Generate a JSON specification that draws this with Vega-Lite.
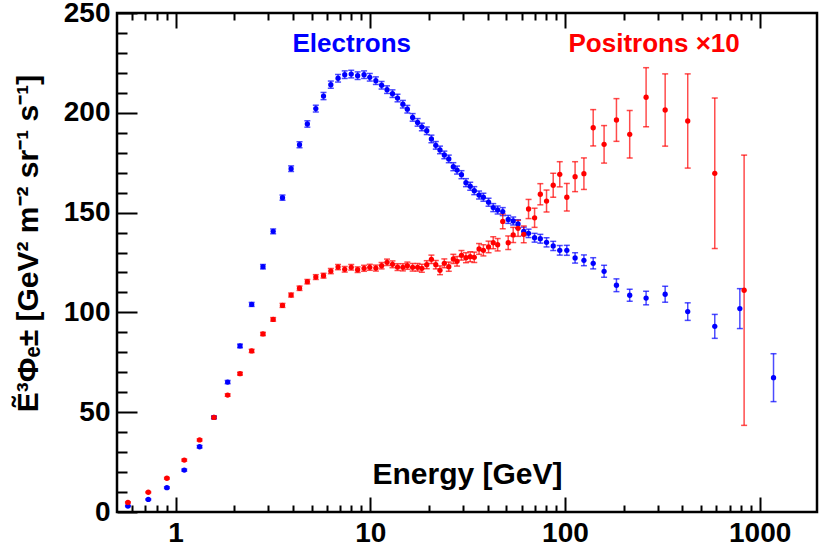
{
  "$schema": "https://vega.github.io/schema/vega-lite/v6.json",
  "description": "Electron and positron flux times E^3 vs energy",
  "autosize": {"type": "none"},
  "padding": {"left": 117, "top": 13, "right": 3, "bottom": 33},
  "width": 700,
  "height": 499,
  "background": "white",
  "config": {
    "view": {"stroke": "black", "strokeWidth": 2.5},
    "axis": {
      "domain": false,
      "grid": false,
      "labelFont": "Liberation Sans",
      "labelFontWeight": "bold",
      "labelFontSize": 28,
      "labelColor": "black",
      "tickColor": "black",
      "tickWidth": 2,
      "titleFont": "Liberation Sans",
      "titleFontWeight": "bold",
      "titleFontSize": 30,
      "titleColor": "black"
    }
  },
  "datasets": {
    "electrons": [
      {"E": 0.569, "flux": 3.0, "err": 0.3},
      {"E": 0.724, "flux": 6.3, "err": 0.3},
      {"E": 0.902, "flux": 12.2, "err": 0.4},
      {"E": 1.108, "flux": 21.0, "err": 0.5},
      {"E": 1.328, "flux": 32.7, "err": 0.6},
      {"E": 1.574, "flux": 47.4, "err": 0.7},
      {"E": 1.851, "flux": 65.1, "err": 0.8},
      {"E": 2.142, "flux": 83.2, "err": 0.9},
      {"E": 2.459, "flux": 104.0, "err": 1.0},
      {"E": 2.81, "flux": 122.9, "err": 1.1},
      {"E": 3.17, "flux": 140.6, "err": 1.2},
      {"E": 3.54, "flux": 157.5, "err": 1.3},
      {"E": 3.92, "flux": 172.0, "err": 1.4},
      {"E": 4.33, "flux": 184.0, "err": 1.5},
      {"E": 4.75, "flux": 194.4, "err": 1.6},
      {"E": 5.25, "flux": 202.1, "err": 1.7},
      {"E": 5.75, "flux": 208.4, "err": 1.8},
      {"E": 6.27, "flux": 214.1, "err": 1.8},
      {"E": 6.83, "flux": 217.3, "err": 1.9},
      {"E": 7.39, "flux": 219.1, "err": 1.9},
      {"E": 7.98, "flux": 219.4, "err": 1.9},
      {"E": 8.61, "flux": 218.6, "err": 1.9},
      {"E": 9.29, "flux": 219.1, "err": 1.9},
      {"E": 9.94, "flux": 217.8, "err": 1.9},
      {"E": 10.68, "flux": 216.1, "err": 1.9},
      {"E": 11.43, "flux": 213.8, "err": 1.9},
      {"E": 12.19, "flux": 211.6, "err": 1.9},
      {"E": 13.0, "flux": 209.6, "err": 1.9},
      {"E": 13.8, "flux": 207.4, "err": 1.9},
      {"E": 14.7, "flux": 204.3, "err": 1.9},
      {"E": 15.5, "flux": 201.8, "err": 1.9},
      {"E": 16.5, "flux": 197.7, "err": 1.9},
      {"E": 17.5, "flux": 195.2, "err": 1.9},
      {"E": 18.4, "flux": 192.9, "err": 1.9},
      {"E": 19.5, "flux": 191.0, "err": 1.9},
      {"E": 20.6, "flux": 186.9, "err": 1.9},
      {"E": 21.7, "flux": 183.7, "err": 1.9},
      {"E": 22.8, "flux": 181.4, "err": 1.9},
      {"E": 24.0, "flux": 178.9, "err": 1.9},
      {"E": 25.3, "flux": 176.9, "err": 1.9},
      {"E": 26.7, "flux": 173.0, "err": 2.0},
      {"E": 27.9, "flux": 171.3, "err": 2.0},
      {"E": 29.4, "flux": 169.0, "err": 2.0},
      {"E": 31.0, "flux": 165.0, "err": 2.0},
      {"E": 32.6, "flux": 163.2, "err": 2.0},
      {"E": 34.2, "flux": 161.0, "err": 2.0},
      {"E": 36.2, "flux": 158.8, "err": 2.0},
      {"E": 38.1, "flux": 157.7, "err": 2.0},
      {"E": 40.5, "flux": 155.2, "err": 2.0},
      {"E": 42.8, "flux": 152.5, "err": 2.0},
      {"E": 45.1, "flux": 151.3, "err": 2.0},
      {"E": 47.9, "flux": 150.5, "err": 2.0},
      {"E": 51.1, "flux": 146.6, "err": 2.0},
      {"E": 54.2, "flux": 145.8, "err": 2.0},
      {"E": 57.4, "flux": 144.3, "err": 2.1},
      {"E": 61.4, "flux": 140.6, "err": 2.1},
      {"E": 65.0, "flux": 139.6, "err": 2.1},
      {"E": 69.8, "flux": 137.4, "err": 2.2},
      {"E": 74.7, "flux": 136.9, "err": 2.2},
      {"E": 80.4, "flux": 135.1, "err": 2.3},
      {"E": 87.0, "flux": 133.3, "err": 2.3},
      {"E": 94.0, "flux": 131.1, "err": 2.4},
      {"E": 102.2, "flux": 131.1, "err": 2.5},
      {"E": 112.7, "flux": 127.3, "err": 2.6},
      {"E": 125.1, "flux": 126.1, "err": 2.7},
      {"E": 139.6, "flux": 124.6, "err": 2.8},
      {"E": 158.8, "flux": 120.6, "err": 3.0},
      {"E": 183.8, "flux": 113.6, "err": 3.2},
      {"E": 215, "flux": 108.6, "err": 3.0},
      {"E": 261, "flux": 107.2, "err": 3.4},
      {"E": 327, "flux": 109.1, "err": 4.0},
      {"E": 427, "flux": 100.4, "err": 4.4},
      {"E": 588, "flux": 93.0, "err": 6.0},
      {"E": 791, "flux": 101.9, "err": 10.0},
      {"E": 1178, "flux": 67.3, "err": 12.0}
    ],
    "positrons": [
      {"E": 0.569, "flux": 4.8, "err": 0.3},
      {"E": 0.724, "flux": 9.9, "err": 0.3},
      {"E": 0.902, "flux": 16.9, "err": 0.4},
      {"E": 1.108, "flux": 26.0, "err": 0.5},
      {"E": 1.328, "flux": 36.1, "err": 0.5},
      {"E": 1.574, "flux": 47.4, "err": 0.6},
      {"E": 1.851, "flux": 58.6, "err": 0.6},
      {"E": 2.142, "flux": 69.3, "err": 0.7},
      {"E": 2.459, "flux": 80.7, "err": 0.8},
      {"E": 2.81, "flux": 89.2, "err": 0.8},
      {"E": 3.17, "flux": 96.5, "err": 0.9},
      {"E": 3.54, "flux": 103.5, "err": 1.0},
      {"E": 3.92, "flux": 108.7, "err": 1.0},
      {"E": 4.33, "flux": 112.1, "err": 1.1},
      {"E": 4.75, "flux": 115.4, "err": 1.1},
      {"E": 5.25, "flux": 117.7, "err": 1.2},
      {"E": 5.75, "flux": 118.4, "err": 1.2},
      {"E": 6.27, "flux": 120.7, "err": 1.3},
      {"E": 6.83, "flux": 122.7, "err": 1.3},
      {"E": 7.39, "flux": 121.6, "err": 1.4},
      {"E": 7.98, "flux": 122.6, "err": 1.4},
      {"E": 8.61, "flux": 121.4, "err": 1.4},
      {"E": 9.29, "flux": 122.1, "err": 1.5},
      {"E": 9.94, "flux": 122.6, "err": 1.5},
      {"E": 10.68, "flux": 122.2, "err": 1.5},
      {"E": 11.43, "flux": 123.4, "err": 1.6},
      {"E": 12.19, "flux": 125.1, "err": 1.6},
      {"E": 13.0, "flux": 124.1, "err": 1.7},
      {"E": 13.8, "flux": 122.7, "err": 1.7},
      {"E": 14.7, "flux": 122.6, "err": 1.8},
      {"E": 15.5, "flux": 123.4, "err": 1.8},
      {"E": 16.5, "flux": 122.6, "err": 1.9},
      {"E": 17.5, "flux": 122.6, "err": 1.9},
      {"E": 18.4, "flux": 122.1, "err": 2.0},
      {"E": 19.5, "flux": 123.9, "err": 2.0},
      {"E": 20.6, "flux": 126.6, "err": 2.1},
      {"E": 21.7, "flux": 123.9, "err": 2.1},
      {"E": 22.8, "flux": 121.1, "err": 2.2},
      {"E": 24.0, "flux": 124.6, "err": 2.2},
      {"E": 25.3, "flux": 122.9, "err": 2.3},
      {"E": 26.7, "flux": 126.8, "err": 2.3},
      {"E": 27.9, "flux": 125.6, "err": 2.4},
      {"E": 29.4, "flux": 128.6, "err": 2.4},
      {"E": 31.0, "flux": 127.4, "err": 2.5},
      {"E": 32.6, "flux": 127.9, "err": 2.5},
      {"E": 34.2, "flux": 127.6, "err": 2.6},
      {"E": 36.2, "flux": 131.8, "err": 2.7},
      {"E": 38.1, "flux": 131.1, "err": 2.8},
      {"E": 40.5, "flux": 132.8, "err": 2.9},
      {"E": 42.8, "flux": 134.9, "err": 3.0},
      {"E": 45.1, "flux": 133.9, "err": 3.1},
      {"E": 47.9, "flux": 145.6, "err": 3.7},
      {"E": 51.1, "flux": 134.9, "err": 3.4},
      {"E": 54.2, "flux": 138.8, "err": 3.8},
      {"E": 57.4, "flux": 142.1, "err": 4.0},
      {"E": 61.4, "flux": 139.1, "err": 4.2},
      {"E": 65.0, "flux": 151.8, "err": 4.8},
      {"E": 69.8, "flux": 147.4, "err": 4.8},
      {"E": 74.7, "flux": 159.2, "err": 5.3},
      {"E": 80.4, "flux": 155.8, "err": 5.5},
      {"E": 87.0, "flux": 163.7, "err": 6.0},
      {"E": 94.0, "flux": 169.2, "err": 6.3},
      {"E": 102.2, "flux": 157.7, "err": 6.9},
      {"E": 112.7, "flux": 168.0, "err": 7.5},
      {"E": 125.1, "flux": 169.5, "err": 7.9},
      {"E": 139.6, "flux": 192.5, "err": 9.1},
      {"E": 158.8, "flux": 184.2, "err": 9.4},
      {"E": 183.8, "flux": 196.4, "err": 10.7},
      {"E": 215, "flux": 189.2, "err": 11.9},
      {"E": 261, "flux": 207.8, "err": 14.8},
      {"E": 327, "flux": 201.4, "err": 18.1},
      {"E": 427, "flux": 195.9, "err": 23.6},
      {"E": 588, "flux": 169.7, "err": 37.7},
      {"E": 832, "flux": 111.1, "err": 67.7}
    ],
    "labels": [
      {"E": 8.03, "flux": 234.5, "label": "Electrons", "species": "e-"},
      {"E": 287, "flux": 234.5, "label": "Positrons ×10", "species": "e+"}
    ]
  },
  "resolve": {"axis": {"x": "independent", "y": "independent"}},
  "layer": [
    {
      "data": {"name": "electrons"},
      "mark": {"type": "errorbar", "color": "#0000ff", "opacity": 0.7, "thickness": 1.5, "ticks": {"size": 6, "thickness": 1.5}},
      "encoding": {
        "x": {"field": "E", "type": "quantitative",
              "scale": {"type": "log", "domain": [0.5, 1970], "nice": false},
              "axis": {"orient": "bottom", "values": [0.6, 0.7, 0.8, 0.9, 2, 3, 4, 5, 6, 7, 8, 9, 20, 30, 40, 50, 60, 70, 80, 90, 200, 300, 400, 500, 600, 700, 800, 900], "tickSize": -7, "labels": false, "title": null}},
        "y": {"field": "flux", "type": "quantitative",
              "scale": {"domain": [0, 250], "nice": false},
              "axis": {"orient": "left", "values": [10, 20, 30, 40, 60, 70, 80, 90, 110, 120, 130, 140, 160, 170, 180, 190, 210, 220, 230, 240], "tickSize": -10, "labels": false, "title": null}},
        "yError": {"field": "err"}
      }
    },
    {
      "data": {"name": "positrons"},
      "mark": {"type": "errorbar", "color": "#ff0000", "opacity": 0.7, "thickness": 1.5, "ticks": {"size": 6, "thickness": 1.5}},
      "encoding": {
        "x": {"field": "E", "type": "quantitative",
              "scale": {"type": "log", "domain": [0.5, 1970], "nice": false},
              "axis": {"orient": "top", "values": [0.6, 0.7, 0.8, 0.9, 2, 3, 4, 5, 6, 7, 8, 9, 20, 30, 40, 50, 60, 70, 80, 90, 200, 300, 400, 500, 600, 700, 800, 900], "tickSize": -7, "labels": false, "title": null}},
        "y": {"field": "flux", "type": "quantitative",
              "scale": {"domain": [0, 250], "nice": false}, "axis": null},
        "yError": {"field": "err"}
      }
    },
    {
      "data": {"name": "electrons"},
      "mark": {"type": "point", "filled": true, "size": 28, "color": "#0000ff", "opacity": 1},
      "encoding": {
        "x": {"field": "E", "type": "quantitative",
              "scale": {"type": "log", "domain": [0.5, 1970], "nice": false},
              "axis": {"orient": "bottom", "values": [1, 10, 100, 1000], "format": "d", "tickSize": -15, "labelPadding": 22,
                       "title": "Energy [GeV]", "titleX": 350, "titleY": -38, "titleAlign": "center", "titleBaseline": "middle"}},
        "y": {"field": "flux", "type": "quantitative",
              "scale": {"domain": [0, 250], "nice": false},
              "axis": {"orient": "left", "values": [0, 50, 100, 150, 200, 250], "format": "d", "tickSize": -20, "labelPadding": 27, "labelOverlap": false, "labelFlush": false,
                       "title": "Ẽ³Φₑ± [GeV² m⁻² sr⁻¹ s⁻¹]", "titleX": -89, "titleY": 230, "titleAngle": -90, "titleAlign": "center", "titleBaseline": "middle"}}
      }
    },
    {
      "data": {"name": "positrons"},
      "mark": {"type": "point", "filled": true, "size": 28, "color": "#ff0000", "opacity": 1},
      "encoding": {
        "x": {"field": "E", "type": "quantitative",
              "scale": {"type": "log", "domain": [0.5, 1970], "nice": false},
              "axis": {"orient": "top", "values": [1, 10, 100, 1000], "tickSize": -15, "labels": false, "title": null}},
        "y": {"field": "flux", "type": "quantitative",
              "scale": {"domain": [0, 250], "nice": false}, "axis": null}
      }
    },
    {
      "data": {"name": "labels"},
      "mark": {"type": "text", "font": "Liberation Sans", "fontWeight": "bold", "fontSize": 26, "baseline": "middle", "align": "center"},
      "encoding": {
        "x": {"field": "E", "type": "quantitative",
              "scale": {"type": "log", "domain": [0.5, 1970], "nice": false}, "axis": null},
        "y": {"field": "flux", "type": "quantitative",
              "scale": {"domain": [0, 250], "nice": false}, "axis": null},
        "text": {"field": "label"},
        "color": {"field": "species", "type": "nominal",
                  "scale": {"domain": ["e-", "e+"], "range": ["#0000ff", "#ff0000"]}, "legend": null}
      }
    }
  ]
}
